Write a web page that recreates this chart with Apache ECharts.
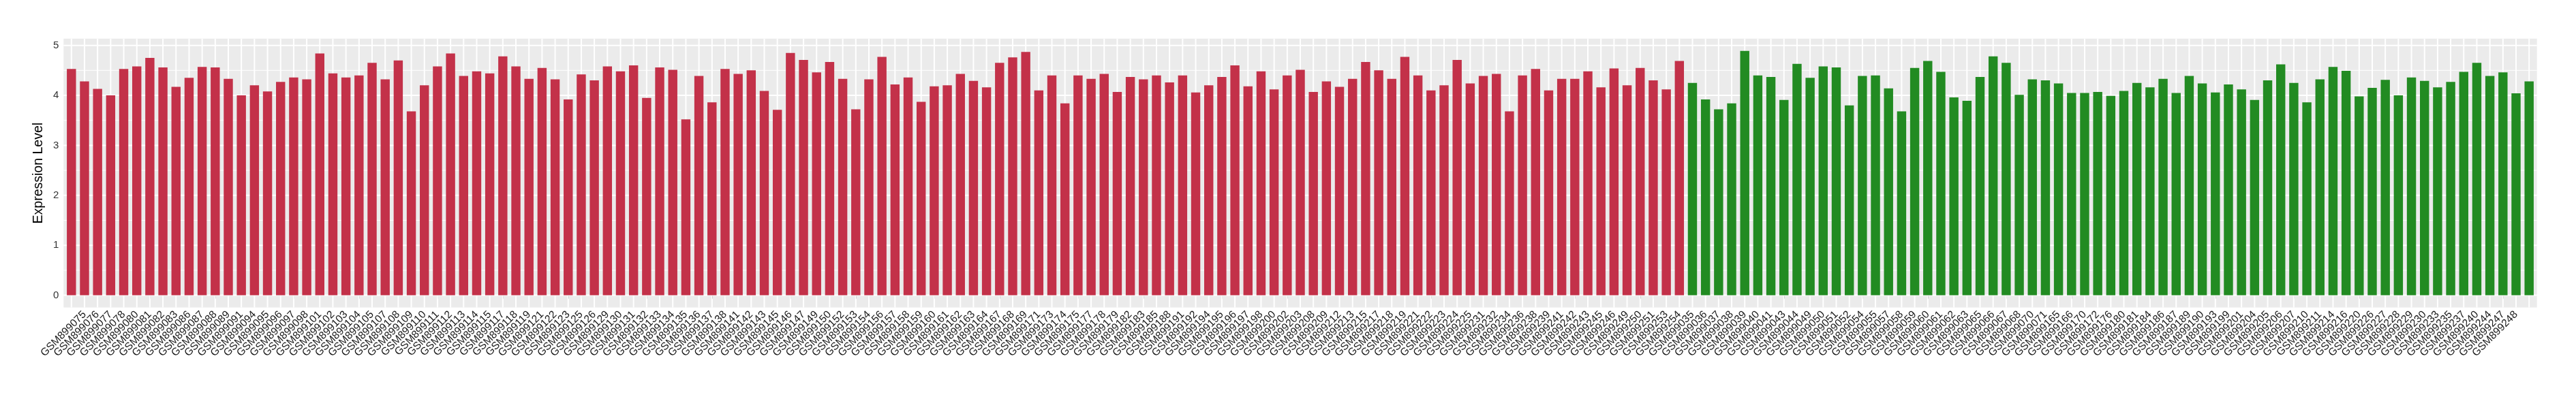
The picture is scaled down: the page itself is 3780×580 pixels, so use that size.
<!DOCTYPE html>
<html>
<head>
<meta charset="utf-8">
<script src="https://cdn.jsdelivr.net/npm/echarts@6/dist/echarts.min.js"></script>
<style>
  html, body { margin: 0; padding: 0; background: #ffffff; }
  #chart { width: 3780px; height: 580px; }
</style>
</head>
<body>
<div id="chart"></div>
<script>
// ---- data ----
const groupASamples = ["GSM899074","GSM899075","GSM899076","GSM899077","GSM899078","GSM899080","GSM899081","GSM899082","GSM899083","GSM899086","GSM899087","GSM899088","GSM899089","GSM899091","GSM899094","GSM899095","GSM899096","GSM899097","GSM899098","GSM899101",
"GSM899102","GSM899103","GSM899104","GSM899105","GSM899107","GSM899108","GSM899109","GSM899110","GSM899111","GSM899112","GSM899113","GSM899114","GSM899115","GSM899117","GSM899118","GSM899119","GSM899121",
"GSM899122","GSM899123","GSM899125","GSM899126","GSM899129","GSM899130","GSM899131","GSM899132","GSM899133","GSM899134","GSM899135","GSM899136","GSM899137","GSM899138","GSM899141","GSM899142","GSM899143",
"GSM899145","GSM899146","GSM899147","GSM899149","GSM899150","GSM899152","GSM899153","GSM899154","GSM899156","GSM899157","GSM899158","GSM899159","GSM899160","GSM899161","GSM899162","GSM899163",
"GSM899164","GSM899167","GSM899168","GSM899169","GSM899171","GSM899173","GSM899174","GSM899175","GSM899177","GSM899178","GSM899179","GSM899182","GSM899183","GSM899185","GSM899188","GSM899191","GSM899192",
"GSM899194","GSM899195","GSM899196","GSM899197","GSM899198","GSM899200","GSM899202","GSM899203","GSM899208","GSM899209","GSM899212","GSM899213","GSM899215","GSM899217","GSM899218","GSM899219",
"GSM899221","GSM899222","GSM899223","GSM899224","GSM899225","GSM899231","GSM899232","GSM899234","GSM899236","GSM899238","GSM899239","GSM899241","GSM899242","GSM899243","GSM899245","GSM899246",
"GSM899249","GSM899250","GSM899251","GSM899253","GSM899254"];
const groupAValues = [4.53,4.28,4.13,4.00,4.53,4.58,4.75,4.56,4.17,4.35,4.57,4.56,4.33,4.00,4.20,4.08,4.27,4.36,4.32,4.84,
4.44,4.36,4.40,4.65,4.32,4.70,3.68,4.20,4.58,4.84,4.39,4.48,4.44,4.78,4.58,4.33,4.55,
4.32,3.92,4.42,4.30,4.58,4.48,4.60,3.95,4.56,4.51,3.52,4.39,3.86,4.53,4.43,4.50,4.09,
3.71,4.85,4.71,4.46,4.67,4.33,3.72,4.32,4.77,4.22,4.36,3.87,4.18,4.20,4.43,4.29,
4.16,4.65,4.76,4.87,4.10,4.40,3.84,4.40,4.33,4.43,4.07,4.37,4.32,4.40,4.26,4.40,4.06,
4.20,4.37,4.60,4.18,4.48,4.12,4.40,4.51,4.07,4.28,4.17,4.33,4.67,4.50,4.33,4.77,
4.40,4.10,4.20,4.71,4.24,4.39,4.43,3.68,4.40,4.53,4.10,4.33,4.33,4.48,4.16,4.54,
4.20,4.55,4.30,4.12,4.69];

const groupBSamples = ["GSM899035","GSM899036","GSM899037","GSM899038","GSM899039","GSM899040","GSM899041","GSM899043","GSM899044","GSM899049","GSM899050","GSM899051",
"GSM899052","GSM899054","GSM899055","GSM899057","GSM899058","GSM899059","GSM899060","GSM899061","GSM899062","GSM899063","GSM899065","GSM899066","GSM899067","GSM899068","GSM899070","GSM899071",
"GSM899165","GSM899166","GSM899170","GSM899172","GSM899176","GSM899180","GSM899181","GSM899184","GSM899186","GSM899187","GSM899189","GSM899190","GSM899193","GSM899199","GSM899201","GSM899204","GSM899205",
"GSM899206","GSM899207","GSM899210","GSM899211","GSM899214","GSM899216","GSM899220","GSM899226","GSM899227","GSM899228","GSM899229","GSM899230","GSM899233","GSM899235","GSM899237","GSM899240","GSM899244","GSM899247","GSM899248","GSM899252"];
const groupBValues = [4.25,3.92,3.72,3.84,4.89,4.40,4.37,3.91,4.63,4.35,4.58,4.56,
3.80,4.39,4.40,4.14,3.68,4.55,4.69,4.47,3.96,3.89,4.37,4.78,4.65,4.01,4.32,4.30,
4.24,4.05,4.05,4.07,3.99,4.09,4.25,4.16,4.33,4.05,4.39,4.24,4.06,4.22,4.12,3.91,4.30,
4.62,4.25,3.86,4.32,4.57,4.49,3.98,4.15,4.31,4.00,4.36,4.29,4.16,4.27,4.47,4.65,4.39,4.46,4.04,4.28];

const yMajorTicks = [0, 1, 2, 3, 4, 5];
const yMinorTicks = [0.5, 1.5, 2.5, 3.5, 4.5];

// ---- derived ----
const categories = groupASamples.concat(groupBSamples);
const values = groupAValues.concat(groupBValues);
const colorA = '#C33149';
const colorB = '#228B22';
const N = categories.length;
const idx = categories.map((c, i) => i);
const maxV = Math.max.apply(null, values);
const yMin = -0.05 * maxV;
const yMax = maxV * 1.05;

const barData = values.map((v, i) => ({
  value: [i, v],
  itemStyle: { color: i < groupASamples.length ? colorA : colorB }
}));

const font = 'Liberation Sans, Arial, Helvetica, sans-serif';

function hLine(width) {
  return function (params, api) {
    const cs = params.coordSys;
    const y = api.coord([0, api.value(1)])[1];
    return { type: 'line', shape: { x1: cs.x, y1: y, x2: cs.x + cs.width, y2: y },
             style: { stroke: '#FFFFFF', lineWidth: width } };
  };
}
function vLine(params, api) {
  const cs = params.coordSys;
  const x = api.coord([api.value(0), 0])[0];
  return { type: 'line', shape: { x1: x, y1: cs.y, x2: x, y2: cs.y + cs.height },
           style: { stroke: '#FFFFFF', lineWidth: 2 } };
}

const chart = echarts.init(document.getElementById('chart'), null, { renderer: 'canvas' });
chart.setOption({
  animation: false,
  backgroundColor: '#FFFFFF',
  grid: {
    left: 93.3, right: 57.3, top: 56.8, bottom: 128.5,
    show: true, backgroundColor: '#EBEBEB', borderWidth: 0
  },
  xAxis: {
    type: 'value',
    min: -0.6, max: N - 0.4,
    axisLine: { show: false },
    splitLine: { show: false },
    axisTick: { show: true, customValues: idx, length: 5, lineStyle: { color: '#333333', width: 1 } },
    axisLabel: {
      customValues: idx,
      formatter: function (v) { return categories[Math.round(v)]; },
      rotate: 45, margin: 8,
      fontSize: 15.5, color: '#1A1A1A', fontFamily: font
    }
  },
  yAxis: {
    type: 'value',
    min: yMin, max: yMax,
    name: 'Expression Level',
    nameLocation: 'middle',
    nameGap: 11,
    nameTextStyle: { fontSize: 19.5, color: '#000000', fontFamily: font },
    axisLine: { show: false },
    splitLine: { show: false },
    axisTick: { show: true, customValues: yMajorTicks, length: 5, lineStyle: { color: '#333333', width: 1 } },
    axisLabel: { customValues: yMajorTicks, margin: 7, fontSize: 15, color: '#333333', fontFamily: font }
  },
  series: [
    { type: 'custom', z: 1, silent: true, renderItem: hLine(1),
      data: yMinorTicks.map(v => [0, v]) },
    { type: 'custom', z: 1, silent: true, renderItem: hLine(2),
      data: yMajorTicks.map(v => [0, v]) },
    { type: 'custom', z: 1, silent: true, renderItem: vLine,
      data: idx.map(i => [i, 0]) },
    { type: 'bar', z: 3, barWidth: '70%', data: barData }
  ]
});
</script>
</body>
</html>
